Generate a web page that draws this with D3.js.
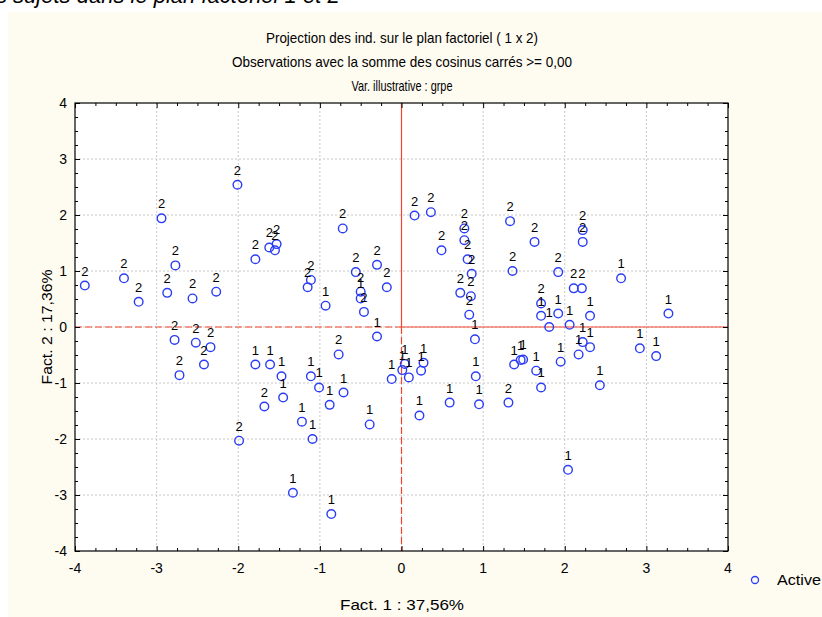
<!DOCTYPE html>
<html>
<head>
<meta charset="utf-8">
<script src="https://cdn.jsdelivr.net/npm/d3@7"></script>
<style>
  body { margin: 0; background: #fff; }
  text { font-family: "Liberation Sans Narrow", "Liberation Sans", Arial, sans-serif; }
</style>
</head>
<body>
<div id="chart"></div>
<script>
// individus du groupe 2 (Fact. 1, Fact. 2)
var grp2F1 = [-3.88, -3.40, -3.22, -2.94, -2.77, -2.87, -2.56, -2.27, -2.01, -1.79, -1.62, -1.55, -1.53,
              -0.72, -1.11, -1.15, -0.56, -0.50, -0.46, -0.30, -0.18, 0.16, 0.36, 0.49, 0.77, 0.77, 0.81,
              0.86, 0.72, 0.85, 0.83, 1.33, 1.63, 1.36, 1.92, 1.71, 2.22, 2.22, 2.11, 2.21,
              -2.78, -2.52, -2.34, -2.42, -2.72, -1.99, -0.77, -1.68, 1.31];
var grp2F2 = [0.74, 0.87, 0.45, 1.94, 1.10, 0.61, 0.51, 0.63, 2.54, 1.21, 1.42, 1.37, 1.48,
              1.76, 0.84, 0.71, 0.98, 0.63, 0.27, 1.11, 0.71, 1.99, 2.05, 1.37, 1.76, 1.55, 1.21,
              0.95, 0.61, 0.55, 0.22, 1.89, 1.52, 1.00, 0.98, 0.42, 1.73, 1.52, 0.69, 0.69,
              -0.23, -0.28, -0.36, -0.67, -0.86, -2.03, -0.49, -1.42, -1.35];
// individus du groupe 1
var grp1F1 = [-0.93, -0.50, -0.30, 0.90, -0.12, 0.04, 0.01, 0.09, 0.27, 0.24, 0.91, 0.22, 0.59, 0.95,
              1.38, 1.46, 1.49, 1.65, 1.71, 1.71, 1.92, 1.81, 2.06, 2.69, 2.31, 3.27, 2.22, 2.31,
              2.17, 1.95, 2.92, 3.12, 2.43, 2.04, -1.79, -1.61, -1.47, -1.11, -1.01, -0.71, -0.88,
              -1.45, -1.22, -1.09, -0.39, -1.33, -0.86];
var grp1F2 = [0.38, 0.51, -0.17, -0.22, -0.93, -0.66, -0.77, -0.90, -0.64, -0.78, -0.88, -1.58, -1.35, -1.38,
              -0.67, -0.59, -0.58, -0.78, -1.08, 0.20, 0.24, 0.00, 0.04, 0.87, 0.20, 0.24, -0.27, -0.36,
              -0.49, -0.62, -0.38, -0.52, -1.04, -2.55, -0.67, -0.67, -0.88, -0.88, -1.08, -1.17, -1.39,
              -1.26, -1.69, -2.00, -1.74, -2.96, -3.34];
var tickVals = [-4, -3, -2, -1, 0, 1, 2, 3, 4];
var titles = ["Projection des ind. sur le plan factoriel ( 1 x  2)",
              "Observations avec la somme des cosinus carrés >=  0,00",
              "Var. illustrative :  grpe"];

var W = 822, H = 617;
var svg = d3.select('#chart').append('svg').attr('width', W).attr('height', H);

// fond
svg.append('rect').attr('width', W).attr('height', H).attr('fill', '#fff');
svg.append('rect').attr('x', 8).attr('y', 12).attr('width', W - 8).attr('height', H - 12).attr('fill', '#fefbf1');

// texte coupé en haut
svg.append('text').attr('x', -4).attr('y', 3)
  .style('font-family', 'Arial, sans-serif').style('font-style', 'italic').style('font-size', '22px')
  .text('s sujets dans le plan factoriel  1 et 2');

var x = d3.scaleLinear().domain([-4, 4]).range([75, 728]);
var y = d3.scaleLinear().domain([-4, 4]).range([551, 103]);

svg.append('rect').attr('x', x(-4)).attr('y', y(4))
  .attr('width', x(4) - x(-4)).attr('height', y(-4) - y(4)).attr('fill', '#fff');

// grille
var inner = tickVals.slice(1, -1);
svg.selectAll('line.gx').data(inner).enter().append('line')
  .attr('x1', d => x(d)).attr('x2', d => x(d)).attr('y1', y(4)).attr('y2', y(-4))
  .attr('stroke', '#c8c8c8').attr('stroke-dasharray', '2,2');
svg.selectAll('line.gy').data(inner).enter().append('line')
  .attr('y1', d => y(d)).attr('y2', d => y(d)).attr('x1', x(-4)).attr('x2', x(4))
  .attr('stroke', '#c8c8c8').attr('stroke-dasharray', '2,2');

// axes zéro
var red = '#f2442e';
svg.append('line').attr('x1', x(-4)).attr('x2', x(0)).attr('y1', y(0)).attr('y2', y(0))
  .attr('stroke', red).attr('stroke-width', 1.2).attr('stroke-dasharray', '7,3');
svg.append('line').attr('x1', x(0)).attr('x2', x(4)).attr('y1', y(0)).attr('y2', y(0))
  .attr('stroke', red).attr('stroke-width', 1.2);
svg.append('line').attr('x1', x(0)).attr('x2', x(0)).attr('y1', y(4)).attr('y2', y(0))
  .attr('stroke', red).attr('stroke-width', 1.2);
svg.append('line').attr('x1', x(0)).attr('x2', x(0)).attr('y1', y(0)).attr('y2', y(-4))
  .attr('stroke', red).attr('stroke-width', 1.2).attr('stroke-dasharray', '7,3');

// axes (graduations vers l'intérieur)
var minor = d3.range(-4, 4.001, 0.25);
var gB = svg.append('g').attr('transform', 'translate(0,' + y(-4) + ')');
var gT = svg.append('g').attr('transform', 'translate(0,' + y(4) + ')');
var gL = svg.append('g').attr('transform', 'translate(' + x(-4) + ',0)');
var gR = svg.append('g').attr('transform', 'translate(' + x(4) + ',0)');
function isMajor(d) { return Math.abs(d - Math.round(d)) < 1e-6; }
gB.call(d3.axisTop(x).tickValues(minor).tickFormat('').tickSizeOuter(0).tickSize(5));
gT.call(d3.axisBottom(x).tickValues(minor).tickFormat('').tickSizeOuter(0).tickSize(5));
gL.call(d3.axisRight(y).tickValues(minor).tickFormat('').tickSizeOuter(0).tickSize(5));
gR.call(d3.axisLeft(y).tickValues(minor).tickFormat('').tickSizeOuter(0).tickSize(5));
[gB, gT].forEach(function(g) {
  g.selectAll('.tick line').attr('y2', function(d) { var s = +d3.select(this).attr('y2'); return isMajor(d) ? s : s * 0.6; });
});
[gL, gR].forEach(function(g) {
  g.selectAll('.tick line').attr('x2', function(d) { var s = +d3.select(this).attr('x2'); return isMajor(d) ? s : s * 0.6; });
});
[gB, gT, gL, gR].forEach(function(g) {
  g.select('.domain').remove();
  g.selectAll('.tick line').attr('stroke', '#000');
});
svg.append('rect').attr('x', x(-4)).attr('y', y(4))
  .attr('width', x(4) - x(-4)).attr('height', y(-4) - y(4))
  .attr('fill', 'none').attr('stroke', '#000').attr('stroke-width', 1.2);

// libellés des graduations
svg.selectAll('text.xt').data(tickVals).enter().append('text')
  .attr('x', d => x(d)).attr('y', y(-4) + 22).attr('text-anchor', 'middle')
  .style('font-size', '14px').text(d => d);
svg.selectAll('text.yt').data(tickVals).enter().append('text')
  .attr('x', x(-4) - 8).attr('y', d => y(d) + 5).attr('text-anchor', 'end')
  .style('font-size', '14px').text(d => d);

// titres
var tW = [272, 340, 101];
titles.forEach(function(t, i) {
  svg.append('text').attr('x', 402).attr('y', 43 + i * 24).attr('text-anchor', 'middle')
    .attr('textLength', tW[i]).attr('lengthAdjust', 'spacingAndGlyphs')
    .style('font-size', '15px').text(t);
});
svg.append('text').attr('x', 402).attr('y', 610).attr('text-anchor', 'middle')
  .attr('textLength', 124).attr('lengthAdjust', 'spacingAndGlyphs')
  .style('font-size', '15px').text('Fact. 1 : 37,56%');
svg.append('text').attr('transform', 'translate(52,' + y(0) + ') rotate(-90)')
  .attr('text-anchor', 'middle').attr('textLength', 115).attr('lengthAdjust', 'spacingAndGlyphs')
  .style('font-size', '15px').text('Fact. 2 : 17,36%');

// points
var pts = [];
grp2F1.forEach(function(v, i) { pts.push({ f1: v, f2: grp2F2[i], g: '2' }); });
grp1F1.forEach(function(v, i) { pts.push({ f1: v, f2: grp1F2[i], g: '1' }); });

var blue = '#2a3cf5';
var gp = svg.append('g');
gp.selectAll('circle').data(pts).enter().append('circle')
  .attr('cx', d => x(d.f1)).attr('cy', d => y(d.f2)).attr('r', 4.3)
  .attr('fill', 'none').attr('stroke', blue).attr('stroke-width', 1.4);
gp.selectAll('text').data(pts).enter().append('text')
  .attr('x', d => x(d.f1)).attr('y', d => y(d.f2) - 10).attr('text-anchor', 'middle')
  .style('font-family', 'Arial, "Liberation Sans", sans-serif').style('font-size', '13px')
  .text(d => d.g);

// légende
svg.append('circle').attr('cx', 755).attr('cy', 580).attr('r', 3.5)
  .attr('fill', 'none').attr('stroke', blue).attr('stroke-width', 1.3);
svg.append('text').attr('x', 777).attr('y', 585).style('font-size', '15px')
  .attr('textLength', 44).attr('lengthAdjust', 'spacingAndGlyphs').text('Active');
</script>
</body>
</html>
